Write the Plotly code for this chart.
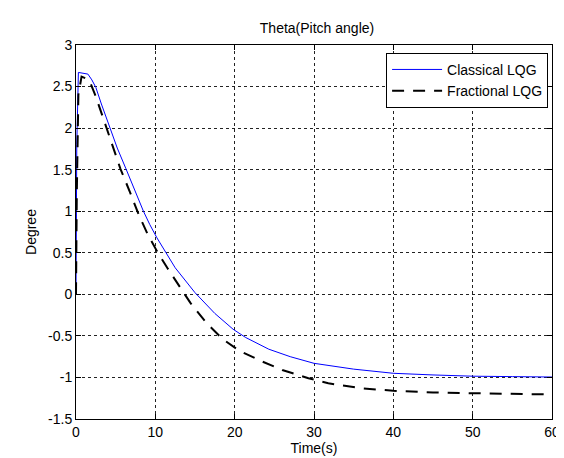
import plotly.graph_objects as go

# Classical LQG
t_classical = [0, 0.1, 0.3, 0.8, 1.5, 2.0, 2.5, 3.2, 4.2, 5.2, 6.3, 7.4, 8.5, 9.3, 10.2,
               12.5, 15, 17.5, 19.8, 21.4, 24.3, 27, 30, 35, 40, 45, 50, 55, 60]
v_classical = [0, 1.8, 2.67, 2.66, 2.65, 2.58, 2.49, 2.29, 2.02, 1.76, 1.51, 1.25, 1.0, 0.84, 0.68,
               0.32, 0.02, -0.23, -0.42, -0.52, -0.66, -0.75, -0.83, -0.90, -0.95, -0.97, -0.985, -0.99, -0.995]

# Fractional LQG
t_fractional = [0, 0.1, 0.3, 0.7, 1.2, 1.7, 2.5, 3.5, 4.4, 5.6, 6.8, 7.9, 9.0, 10.2, 11.5,
                12.7, 14.4, 16.4, 18.5, 20.6, 23.5, 26, 29.3, 31.8, 35.9, 40, 45, 50, 55, 60]
v_fractional = [0, 1.2, 2.4, 2.62, 2.6, 2.57, 2.38, 2.10, 1.84, 1.51, 1.23, 0.96, 0.73, 0.52, 0.32,
                0.14, -0.1, -0.34, -0.54, -0.68, -0.81, -0.91, -1.01, -1.07, -1.13, -1.16, -1.18, -1.19, -1.20, -1.205]

x_ticks = [0, 10, 20, 30, 40, 50, 60]
y_ticks = [-1.5, -1, -0.5, 0, 0.5, 1, 1.5, 2, 2.5, 3]
y_tick_text = ["-1.5", "-1", "-0.5", "0", "0.5", "1", "1.5", "2", "2.5", "3"]

FONT = "Liberation Sans, Arial, sans-serif"

fig = go.Figure()
fig.add_trace(go.Scatter(x=t_classical, y=v_classical, mode="lines", name="Classical LQG",
                         line=dict(color="#0000FF", width=1)))
fig.add_trace(go.Scatter(x=t_fractional, y=v_fractional, mode="lines", name="Fractional LQG",
                         line=dict(color="black", width=2, dash="12px,9px")))

axis_common = dict(showline=True, linecolor="black", linewidth=1, mirror="ticks",
                   ticks="inside", ticklen=5, tickcolor="black",
                   showgrid=True, gridcolor="#222222", gridwidth=1, griddash="3px,3px",
                   zeroline=False, tickfont=dict(family=FONT, size=14, color="black"))

fig.update_xaxes(range=[0, 60], tickvals=x_ticks, ticktext=[str(v) for v in x_ticks],
                 title=dict(text="Time(s)", font=dict(family=FONT, size=14, color="black"), standoff=4),
                 **axis_common)
fig.update_yaxes(range=[-1.5, 3], tickvals=y_ticks, ticktext=y_tick_text,
                 title=dict(text="Degree", font=dict(family=FONT, size=14, color="black"), standoff=8),
                 **axis_common)

fig.update_layout(
    width=564, height=458,
    margin=dict(l=68, r=14, t=37, b=40),
    paper_bgcolor="white", plot_bgcolor="white",
    title=dict(text="Theta(Pitch angle)", x=(68 + 550) / 2 / 564, xanchor="center",
               y=1 - 20 / 458, yanchor="middle", yref="container",
               font=dict(family=FONT, size=14, color="black")),
    legend=dict(x=(382 - 68) / 482, y=(418 - 45) / 381, xanchor="left", yanchor="top",
                bgcolor="white", bordercolor="black", borderwidth=1,
                font=dict(family=FONT, size=14, color="black"),
                itemwidth=50, tracegroupgap=0),
    showlegend=True,
)

fig.write_html("out.html")
